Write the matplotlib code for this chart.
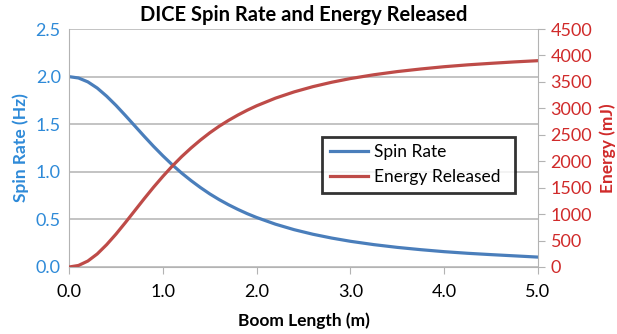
import numpy as np
import matplotlib
matplotlib.use("Agg")
import matplotlib.pyplot as plt

# values
boom_length = [0.0, 0.1, 0.2, 0.3, 0.4, 0.5, 0.6, 0.7, 0.8, 0.9, 1.0,
               1.1, 1.2, 1.3, 1.4, 1.5, 1.6, 1.7, 1.8, 1.9, 2.0,
               2.2, 2.4, 2.6, 2.8, 3.0, 3.25, 3.5, 3.75, 4.0, 4.25, 4.5, 4.75, 5.0]
spin_rate = [2.000, 1.986, 1.945, 1.880, 1.795, 1.698, 1.592, 1.483, 1.374, 1.268, 1.168,
             1.074, 0.987, 0.908, 0.835, 0.768, 0.708, 0.654, 0.605, 0.560, 0.520,
             0.450, 0.392, 0.344, 0.304, 0.270, 0.235, 0.206, 0.182, 0.161, 0.144, 0.130, 0.117, 0.104]
energy = [0, 29, 113, 247, 422, 622, 840, 1065, 1290, 1508, 1714,
          1908, 2087, 2250, 2400, 2538, 2662, 2773, 2874, 2966, 3049,
          3193, 3312, 3411, 3494, 3564, 3636, 3696, 3745, 3788, 3823, 3852, 3879, 3902]

plt.rcParams['font.family'] = ['Lato', 'DejaVu Sans']

blue = "#4a7ebb"
red = "#be4b48"
blue_txt = "#2e8ad8"
red_txt = "#d02a2a"
grid_c = "#b3b3b3"

fig = plt.figure(figsize=(6.17, 3.34), dpi=100)
ax = fig.add_axes([0.112, 0.2006, 0.76, 0.7124])
ax2 = ax.twinx()

l1, = ax.plot(boom_length, spin_rate, color=blue, lw=2.3, label="Spin Rate")
l2, = ax2.plot(boom_length, energy, color=red, lw=2.3, label="Energy Released")

ax.set_xlim(0, 5)
ax.set_ylim(0, 2.5)
ax2.set_ylim(0, 4500)
ax.set_xticks(np.arange(0, 5.1, 1.0))
ax.set_xticklabels(["%.1f" % v for v in np.arange(0, 5.1, 1.0)])
ax.set_yticks(np.arange(0, 2.51, 0.5))
ax.set_yticklabels(["%.1f" % v for v in np.arange(0, 2.51, 0.5)])
ax2.set_yticks(np.arange(0, 4501, 500))

ax.yaxis.grid(True, color=grid_c, lw=1.1)
ax.set_axisbelow(True)

for a in (ax, ax2):
    for s in a.spines.values():
        s.set_visible(False)
ax.spines['left'].set_visible(True)
ax.spines['left'].set_color(grid_c)
ax.spines['bottom'].set_visible(True)
ax.spines['bottom'].set_color(grid_c)
ax2.spines['right'].set_visible(True)
ax2.spines['right'].set_color(grid_c)

ax.tick_params(axis='y', length=0, labelsize=13, labelcolor=blue_txt, pad=6)
ax.tick_params(axis='x', length=5, color=grid_c, labelsize=13, labelcolor="black", pad=7)
ax2.tick_params(axis='y', length=5, color=grid_c, labelsize=13, labelcolor=red_txt, pad=4)

ax.set_title("DICE Spin Rate and Energy Released", fontsize=14.5, fontweight='bold', pad=6)
ax.set_xlabel("Boom Length (m)", fontsize=12.5, fontweight='bold', labelpad=9)
ax.set_ylabel("Spin Rate (Hz)", fontsize=12.5, fontweight='bold', color=blue_txt, labelpad=5)
ax2.set_ylabel("Energy (mJ)", fontsize=12.5, fontweight='bold', color=red_txt, labelpad=5)

leg = ax2.legend(handles=[l1, l2], loc='center', bbox_to_anchor=(0.54, 0.31, 0.41, 0.24),
                 mode='expand', borderaxespad=0, fontsize=12.5, frameon=True, fancybox=False,
                 handlelength=2.2, handletextpad=0.3, borderpad=0.45, labelspacing=0.5)
leg.get_frame().set_edgecolor("black")
leg.get_frame().set_linewidth(2)

fig.savefig("out.png", dpi=100)
